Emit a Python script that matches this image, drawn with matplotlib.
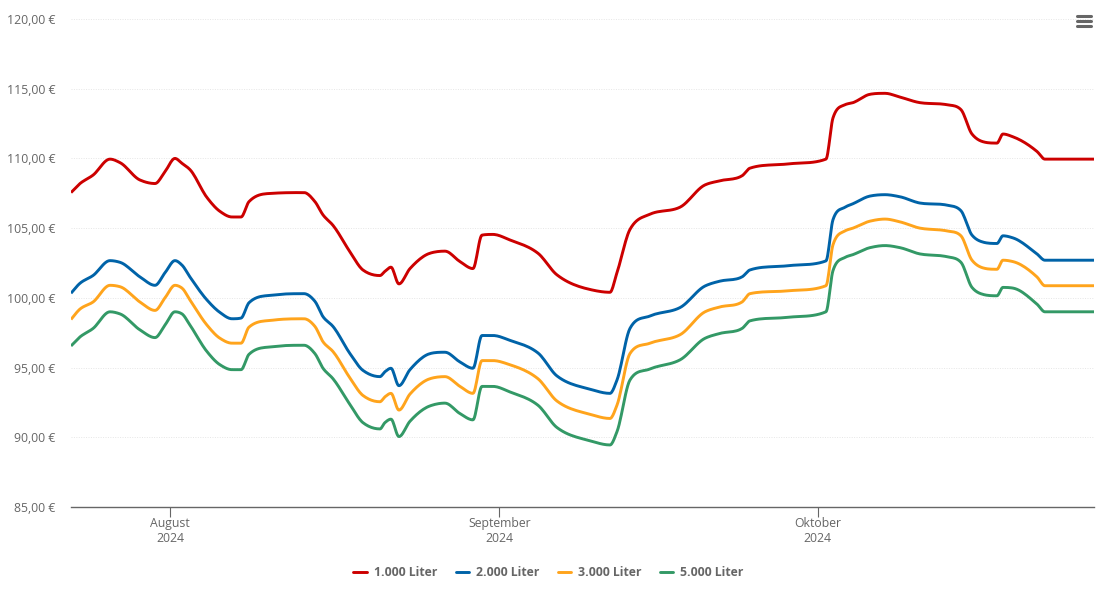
import numpy as np
import matplotlib
matplotlib.use("Agg")
import matplotlib.pyplot as plt
from matplotlib.lines import Line2D

plt.rcParams['font.family'] = ['Open Sans', 'DejaVu Sans']

# days since 1 Aug 2024
days = [-9.32,-8.47,-7.25,-5.65,-4.71,-2.82,-1.41,-0.47,0.47,1.13,1.88,3.48,4.71,5.84,6.69,7.44,9.70,12.62,13.65,14.41,15.35,16.95,18.17,19.77,20.24,20.81,21.56,22.60,24.48,25.89,27.31,28.53,29.38,30.41,32.02,34.65,36.44,39.55,41.43,42.09,43.31,45.20,48.02,50.38,51.79,53.86,54.61,58.10,61.77,62.43,63.56,64.31,65.91,67.33,68.74,70.62,73.16,74.48,75.52,76.55,77.87,78.44,79.38,81.64,82.39,87.01]

liter_1000 = [107.55,108.2,108.8,109.95,109.7,108.45,108.2,109.05,110,109.65,109.2,107.2,106.2,105.8,105.8,106.9,107.5,107.55,106.9,105.95,105.2,103.3,102,101.6,101.9,102.2,101,102.1,103.2,103.35,102.6,102.1,104.5,104.55,104.15,103.2,101.65,100.6,100.4,101.8,104.9,106,106.5,108.1,108.4,108.75,109.3,109.6,109.95,112.9,113.85,114,114.6,114.67,114.4,114,113.85,113.5,111.75,111.2,111.1,111.75,111.55,110.5,109.95,109.95]
liter_2000 = [100.33,101.05,101.6,102.67,102.55,101.5,100.9,101.8,102.67,102.35,101.5,99.85,98.95,98.5,98.55,99.65,100.2,100.3,99.75,98.65,97.95,96,94.8,94.35,94.7,94.95,93.7,94.85,96,96.1,95.4,94.95,97.3,97.3,96.95,96.05,94.4,93.45,93.15,94.1,97.8,98.7,99.3,100.85,101.2,101.5,102,102.3,102.65,105.6,106.5,106.75,107.3,107.4,107.25,106.8,106.65,106.25,104.5,104,103.9,104.45,104.3,103.15,102.7,102.7]
liter_3000 = [98.45,99.2,99.7,100.9,100.8,99.7,99.1,100,100.9,100.7,99.85,98.05,97.1,96.75,96.75,97.9,98.4,98.5,97.95,96.85,96.15,94.25,93,92.55,92.9,93.15,91.95,93.1,94.2,94.35,93.65,93.15,95.5,95.5,95.2,94.2,92.6,91.65,91.35,92.3,96,96.75,97.35,99,99.35,99.7,100.3,100.5,100.87,103.8,104.8,105,105.5,105.65,105.45,105,104.8,104.45,102.7,102.15,102.05,102.7,102.6,101.5,100.87,100.87]
liter_5000 = [96.55,97.2,97.8,99,98.85,97.7,97.15,98.05,99,98.85,98.05,96.15,95.2,94.85,94.85,95.95,96.5,96.6,96,94.95,94.2,92.35,91.05,90.6,91.05,91.3,90.05,91.15,92.25,92.45,91.7,91.25,93.65,93.65,93.25,92.3,90.7,89.75,89.45,90.4,94.1,94.9,95.55,97.1,97.45,97.8,98.35,98.6,99,101.95,102.9,103.1,103.6,103.75,103.6,103.15,102.95,102.55,100.75,100.25,100.15,100.75,100.7,99.55,99,99]

series_names = ['1.000 Liter', '2.000 Liter', '3.000 Liter', '5.000 Liter']
series_colors = ['#cc0000', '#0063a8', '#ffa41c', '#339966']
y_ticks = [85, 90, 95, 100, 105, 110, 115, 120]
x_ticks = [0, 31, 61]
x_labels = ['August\n2024', 'September\n2024', 'Oktober\n2024']


def smooth(x, y, per=12):
    """Limited cubic drawing curve through the knots, like the chart's spline."""
    x, y = np.asarray(x, float), np.asarray(y, float)
    h = np.diff(x)
    d = np.diff(y) / h
    m = np.zeros_like(y)
    for i in range(1, len(y) - 1):
        if d[i - 1] * d[i] > 0:
            est = (h[i] * d[i - 1] + h[i - 1] * d[i]) / (h[i] + h[i - 1])
            w1, w2 = 2 * h[i] + h[i - 1], h[i] + 2 * h[i - 1]
            harm = (w1 + w2) / (w1 / d[i - 1] + w2 / d[i])
            m[i] = 0.5 * (est + harm)
            lim = 3 * min(abs(d[i - 1]), abs(d[i]))
            m[i] = np.sign(m[i]) * min(abs(m[i]), lim)
    m[0], m[-1] = d[0], d[-1]
    xs, ys = [], []
    for i in range(len(h)):
        t = np.linspace(0, 1, per, endpoint=False)
        a = (2*t**3 - 3*t**2 + 1) * y[i] + (t**3 - 2*t**2 + t) * h[i] * m[i]
        b = (-2*t**3 + 3*t**2) * y[i + 1] + (t**3 - t**2) * h[i] * m[i + 1]
        xs.append(x[i] + t * h[i])
        ys.append(a + b)
    return np.r_[np.concatenate(xs), x[-1]], np.r_[np.concatenate(ys), y[-1]]


W, H = 1105, 602
fig = plt.figure(figsize=(W / 100, H / 100), dpi=100)
ax = fig.add_axes([71 / W, 1 - 507 / H, (1094 - 71) / W, (507 - 19) / H])

for vals, col, name in zip([liter_1000, liter_2000, liter_3000, liter_5000], series_colors, series_names):
    sx, sy = smooth(days, vals)
    ax.plot(sx, sy, color=col, lw=2.1, solid_capstyle='butt', solid_joinstyle='round', label=name, zorder=3, clip_on=True)

ax.set_xlim(days[0], days[-1])
ax.set_ylim(85, 120)
ax.set_yticks(y_ticks)
ax.set_yticklabels([f'{v},00 €' for v in y_ticks], fontsize=8.8, color='#666666')
ax.set_xticks(x_ticks)
ax.set_xticklabels(x_labels, fontsize=8.8, color='#666666', linespacing=1.25)
ax.tick_params(axis='y', length=0, pad=11.5)
ax.tick_params(axis='x', length=7, width=0.8, color='#666666', pad=0.2)
ax.grid(axis='y', color='#e6e6e6', lw=0.7, ls=(0, (1, 1.5)), zorder=0)
ax.set_axisbelow(True)
for s in ['top', 'right', 'left']:
    ax.spines[s].set_visible(False)
ax.spines['bottom'].set_color('#666666')
ax.spines['bottom'].set_linewidth(1.0)

leg = fig.legend(loc='center', bbox_to_anchor=(548.5 / W, 1 - 572.5 / H), ncol=4, frameon=False,
                 prop={'size': 8.8, 'weight': 'bold'}, handlelength=1.1, handletextpad=0.55,
                 columnspacing=1.52, labelcolor='#666666')
for h in leg.legend_handles:
    h.set_linewidth(2.1)
    h.set_solid_capstyle('round')

for yy in [16, 21, 26]:
    fig.add_artist(Line2D([1076.5 / W, 1090.5 / W], [1 - yy / H, 1 - yy / H], color='#666666', lw=2.2,
                          solid_capstyle='round', transform=fig.transFigure))

fig.savefig('out.png', dpi=100, facecolor='white')
